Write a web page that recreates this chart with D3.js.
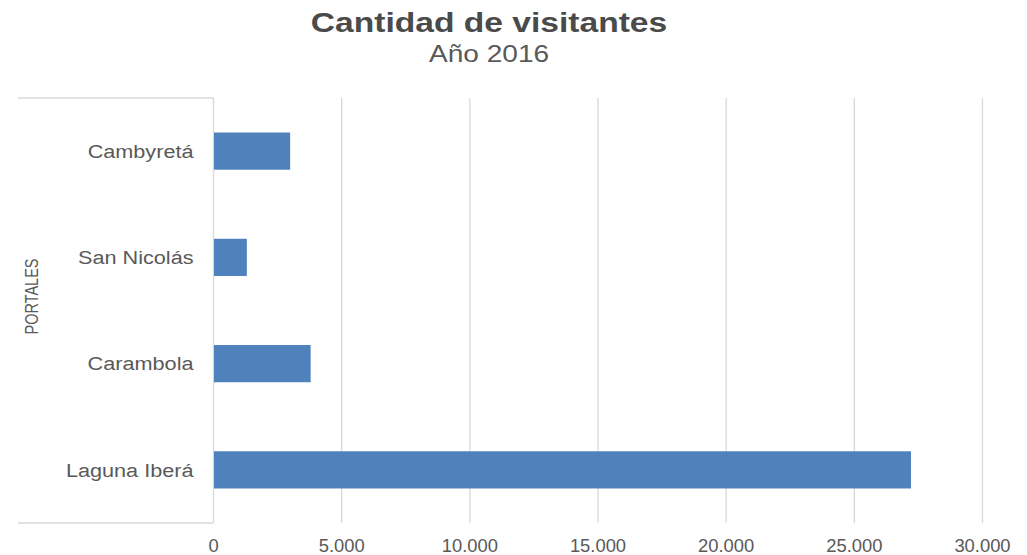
<!DOCTYPE html>
<html>
<head>
<meta charset="utf-8">
<script src="https://cdn.jsdelivr.net/npm/d3@7"></script>
<style>
  body { margin: 0; background: #fff; }
  svg { font-family: "Liberation Sans", Arial, sans-serif; }
</style>
</head>
<body>
<svg id="chart" width="1027" height="555"></svg>
<script>
// Data
const portales = ["Cambyretá", "San Nicolás", "Carambola", "Laguna Iberá"];
const visitantes = [2990, 1300, 3790, 27210];
const xTicks = [0, 5000, 10000, 15000, 20000, 25000, 30000];

const svg = d3.select("#chart");
const margin = { top: 98, right: 45, bottom: 32, left: 213.5 };
const width = 1027, height = 555;

const x = d3.scaleLinear()
    .domain([0, 30000])
    .range([margin.left, 982.5]);

const y = d3.scaleBand()
    .domain(portales)
    .range([margin.top, height - margin.bottom])
    .paddingInner(0.65)
    .paddingOuter(0.325);

const fmt = d => d3.format(",")(d).replace(/,/g, ".");

// the picture is a bit wider than tall, so text is stretched sideways
const place = (px, py, sx) => `translate(${px},${py}) scale(${sx},1)`;

// Gridlines
svg.append("g")
    .selectAll("line")
    .data(xTicks.slice(1))
    .enter()
    .append("line")
    .attr("x1", d => x(d)).attr("x2", d => x(d))
    .attr("y1", margin.top).attr("y2", height - margin.bottom)
    .attr("stroke", "#d9d9d9")
    .attr("stroke-width", 1.3);

// Category axis box lines
svg.append("line")
    .attr("x1", 18).attr("x2", x(0))
    .attr("y1", margin.top).attr("y2", margin.top)
    .attr("stroke", "#d9d9d9").attr("stroke-width", 1.3);
svg.append("line")
    .attr("x1", 18).attr("x2", x(0))
    .attr("y1", height - margin.bottom).attr("y2", height - margin.bottom)
    .attr("stroke", "#d9d9d9").attr("stroke-width", 1.3);
svg.append("line")
    .attr("x1", x(0)).attr("x2", x(0))
    .attr("y1", margin.top).attr("y2", height - margin.bottom)
    .attr("stroke", "#d9d9d9").attr("stroke-width", 1.3);

// Bars
svg.append("g")
    .selectAll("rect")
    .data(portales)
    .enter()
    .append("rect")
    .attr("x", x(0) + 0.5)
    .attr("y", d => y(d))
    .attr("width", (d, i) => x(visitantes[i]) - x(0) - 0.5)
    .attr("height", y.bandwidth())
    .attr("fill", "#4f81bd");

// Category labels
svg.append("g")
    .selectAll("text")
    .data(portales)
    .enter()
    .append("text")
    .attr("transform", d => place(x(0) - 20, y(d) + y.bandwidth() / 2, 1.14))
    .attr("dy", "0.35em")
    .attr("text-anchor", "end")
    .attr("font-size", "19px")
    .attr("fill", "#595959")
    .text(d => d);

// X tick labels
svg.append("g")
    .selectAll("text")
    .data(xTicks)
    .enter()
    .append("text")
    .attr("transform", d => place(x(d), 551.5, 1.05))
    .attr("text-anchor", "middle")
    .attr("font-size", "17.5px")
    .attr("fill", "#595959")
    .text(d => fmt(d));

// Axis title
svg.append("text")
    .attr("transform", "translate(38,296.5) rotate(-90) scale(1,1.3)")
    .attr("text-anchor", "middle")
    .attr("font-size", "14.5px")
    .attr("fill", "#595959")
    .text("PORTALES");

// Titles
svg.append("text")
    .attr("transform", place(489, 32, 1.2))
    .attr("text-anchor", "middle")
    .attr("font-size", "28px")
    .attr("font-weight", "bold")
    .attr("fill", "#4a4a4a")
    .text("Cantidad de visitantes");

svg.append("text")
    .attr("transform", place(489, 62, 1.17))
    .attr("text-anchor", "middle")
    .attr("font-size", "24px")
    .attr("fill", "#595959")
    .text("Año 2016");
</script>
</body>
</html>
